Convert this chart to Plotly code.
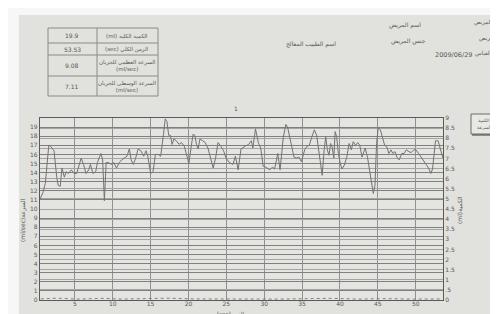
import plotly.graph_objects as go

# ---------------- data ----------------
time_s = [0.41, 0.78, 1.10, 1.56, 1.79, 2.02, 2.25, 2.61, 2.80, 3.07, 3.30, 3.62, 3.85, 4.17, 4.54,
          4.91, 5.23, 5.46, 5.83, 6.15, 6.47, 6.83, 7.06, 7.39, 7.75, 7.98, 8.44, 8.67, 8.90, 9.13,
          9.45, 9.82, 10.14, 10.50, 10.87, 11.19, 11.51, 11.88, 12.20, 12.43, 12.71, 13.03, 13.35,
          13.72, 14.08, 14.40, 14.63, 15.00, 15.32, 15.64, 16.00, 16.33, 16.70, 16.93, 17.16, 17.39,
          17.61, 17.84, 18.07, 18.39, 18.76, 19.08, 19.45, 19.77, 20.05, 20.37, 20.60, 20.83, 21.06,
          21.28, 21.51, 21.88, 22.20, 22.57, 22.89, 23.26, 23.58, 23.90, 24.27, 24.63, 24.95, 25.41,
          25.87, 26.19, 26.56, 26.93, 27.48, 27.94, 28.30, 28.49, 28.85, 29.22, 29.54, 29.86, 30.20,
          30.73, 31.07, 31.37, 31.79, 32.09, 32.52, 32.86, 33.08, 33.38, 33.63, 33.93, 34.23, 34.57,
          34.91, 35.34, 35.64, 35.94, 36.28, 36.62, 36.92, 37.22, 37.48, 37.65, 37.91, 38.12, 38.33,
          38.55, 38.76, 38.97, 39.19, 39.36, 39.57, 39.79, 40.04, 40.26, 40.56, 40.90, 41.20, 41.50,
          41.75, 42.05, 42.35, 42.61, 42.91, 43.12, 43.33, 43.63, 43.89, 44.19, 44.40, 44.62, 44.83,
          45.04, 45.34, 45.60, 45.90, 46.20, 46.45, 46.75, 46.97, 47.26, 47.52, 47.82, 48.16, 48.46,
          48.76, 49.10, 49.40, 49.74, 50.04, 50.38, 50.73, 51.03, 51.45, 51.75, 52.00, 52.22, 52.44,
          52.61, 52.95, 53.25, 53.59]
flow = [11.1, 11.8, 12.8, 17.0, 16.9, 16.6, 16.4, 13.5, 12.6, 12.5, 14.5, 13.5, 14.1, 13.9, 14.3,
        13.9, 13.9, 14.5, 15.6, 14.9, 13.9, 14.3, 14.9, 13.9, 14.1, 15.1, 16.1, 15.4, 10.9, 15.1,
        15.1, 14.9, 15.1, 14.5, 15.1, 15.4, 15.6, 15.8, 16.6, 15.4, 14.9, 15.6, 16.6,
        16.4, 15.8, 16.4, 15.8, 13.9, 14.1, 16.0, 16.0, 15.8, 18.2, 19.9, 19.6, 18.1,
        18.1, 17.1, 17.7, 17.5, 17.1, 17.3, 16.9, 15.8, 15.0, 16.9, 18.2, 18.1, 17.1,
        16.6, 17.7, 17.5, 17.3, 16.7, 15.6, 14.5, 15.6, 17.3, 16.9, 16.4, 15.6, 15.1,
        14.9, 15.8, 14.3, 16.6, 16.9, 17.1, 17.5, 16.7, 18.8, 17.3, 16.7, 14.7, 14.6,
        14.3, 14.6, 14.4, 16.1, 14.3, 17.9, 19.3, 19.0, 17.9, 16.8, 15.7, 15.6, 15.7,
        15.2, 16.5, 16.9, 17.0, 17.9, 18.7, 18.1, 16.5, 15.0, 13.7, 16.5, 17.9, 16.5,
        15.9, 17.2, 16.8, 15.6, 18.5, 17.9, 16.1, 15.0, 14.4, 14.8, 15.7, 17.2, 16.5,
        17.4, 17.0, 17.3, 17.0, 15.7, 16.3, 16.7, 15.7, 14.3, 13.2, 11.7, 12.6, 17.2,
        18.9, 18.7, 17.9, 17.0, 16.8, 16.1, 16.5, 16.1, 16.3, 15.7, 15.4, 16.1, 16.1,
        16.5, 16.3, 16.2, 16.5, 16.5, 16.1, 15.7, 15.4, 14.8, 14.4, 13.9, 14.4, 16.1,
        17.5, 17.5, 16.5, 15.6]

volume_time = [0.5, 2.6, 5.3, 8.8, 11.2, 14.3, 17.3, 20.8, 24.4, 28.1, 31.6, 35.2, 38.9, 42.4, 46.0, 49.7, 53.5]
volume = [0.12, 0.2, 0.1, 0.18, 0.1, 0.15, 0.2, 0.12, 0.1, 0.16, 0.1, 0.14, 0.18, 0.1, 0.15, 0.1, 0.12]

x_ticks = [5, 10, 15, 20, 25, 30, 35, 40, 45, 50]
left_ticks = list(range(0, 20))
right_ticks = [0, 0.5, 1, 1.5, 2, 2.5, 3, 3.5, 4, 4.5, 5, 5.5, 6, 6.5, 7, 7.5, 8, 8.5, 9]
right_labels = ["0", ".5", "1", "1.5", "2", "2.5", "3", "3.5", "4", "4.5", "5", "5.5", "6",
                "6.5", "7", "7.5", "8", "8.5", "9"]

table_values = ["19.9", "53.53", "9.08", "7.11"]
table_labels = ["(ml) الكمية الكلية", "(sec) الزمن الكلي",
                "السرعة العظمى للجريان<br>(ml/sec)", "السرعة الوسطى للجريان<br>(ml/sec)"]

# ---------------- layout helpers ----------------
W, H = 498, 314
L, R, T, B = 32, 435, 110, 292
def PX(px):
    return (px - L) / (R - L)
def PY(py):
    return (B - py) / (B - T)

FONT = "DejaVu Sans"
TXT = "#5a5a58"
PAPER = "#e1e1dd"

fig = go.Figure()
fig.add_trace(go.Scatter(x=time_s, y=flow, mode="lines", name="السرعة",
                         line=dict(color="#737373", width=1), showlegend=False))
fig.add_trace(go.Scatter(x=volume_time, y=volume, mode="lines", name="الكمية",
                         line=dict(color="#808080", width=1, dash="dot"), showlegend=False))
# invisible trace to activate the right axis
fig.add_trace(go.Scatter(x=[None], y=[None], yaxis="y2", showlegend=False))

fig.update_layout(
    width=W, height=H,
    margin=dict(l=L, r=W - R, t=T, b=H - B, pad=0),
    paper_bgcolor=PAPER, plot_bgcolor="#e4e4e0",
    font=dict(family=FONT, color=TXT, size=6),
    xaxis=dict(range=[0.4, 53.6], tickvals=x_ticks, showgrid=True, gridcolor="#909090", gridwidth=1,
               zeroline=False, showline=True, linecolor="#5a5a5a", linewidth=1.3, mirror=True,
               ticks="", ticklen=0, ticklabelstandoff=-2, tickfont=dict(size=6, color=TXT)),
    yaxis=dict(range=[0, 20], tickvals=left_ticks, showgrid=True, gridcolor="#808080", gridwidth=1,
               zeroline=False, showline=True, linecolor="#5a5a5a", linewidth=1.3,
               ticks="", ticklen=0, tickfont=dict(size=6, color=TXT)),
    yaxis2=dict(range=[0, 9], tickvals=right_ticks, ticktext=right_labels, overlaying="y", side="right",
                showgrid=True, gridcolor="#a4a4a2", gridwidth=1, zeroline=False, showline=True,
                linecolor="#5a5a5a", linewidth=1.3, ticks="", ticklen=0,
                tickfont=dict(size=6, color=TXT)),
)

shapes = []
# white edges of the photo
shapes.append(dict(type="rect", xref="paper", yref="paper", x0=PX(0), x1=PX(W), y0=PY(7), y1=PY(0),
                   fillcolor="#f7f7f7", line=dict(width=0), layer="below"))
shapes.append(dict(type="rect", xref="paper", yref="paper", x0=PX(0), x1=PX(11), y0=PY(H), y1=PY(0),
                   fillcolor="#f7f7f7", line=dict(width=0), layer="below"))
# info table
tx0, tx1, tcol = 40, 150, 89
rows = [20, 35, 47, 68, 88]
shapes.append(dict(type="rect", xref="paper", yref="paper", x0=PX(tx0), x1=PX(tx1), y0=PY(rows[-1]),
                   y1=PY(rows[0]), line=dict(color="#8a8a88", width=1)))
shapes.append(dict(type="line", xref="paper", yref="paper", x0=PX(tcol), x1=PX(tcol), y0=PY(rows[-1]),
                   y1=PY(rows[0]), line=dict(color="#8a8a88", width=1)))
for ry in rows[1:-1]:
    shapes.append(dict(type="line", xref="paper", yref="paper", x0=PX(tx0), x1=PX(tx1), y0=PY(ry),
                       y1=PY(ry), line=dict(color="#8a8a88", width=1)))
# legend box
shapes.append(dict(type="rect", xref="paper", yref="paper", x0=PX(463), x1=PX(492), y0=PY(126),
                   y1=PY(106), line=dict(color="#6a6a68", width=1), fillcolor="#e8e8e4", layer="below"))
shapes.append(dict(type="line", xref="paper", yref="paper", x0=PX(464), x1=PX(493), y0=PY(127),
                   y1=PY(127), line=dict(color="#555", width=1.2), layer="below"))
shapes.append(dict(type="line", xref="paper", yref="paper", x0=PX(493), x1=PX(493), y0=PY(127),
                   y1=PY(107), line=dict(color="#555", width=1.2), layer="below"))
fig.update_layout(shapes=shapes)

ann = []
def text(px, py, s, size=6, xanchor="center", angle=0, yanchor="middle"):
    ann.append(dict(x=PX(px), y=PY(py), xref="paper", yref="paper", text=s, showarrow=False,
                    xanchor=xanchor, yanchor=yanchor, textangle=angle, borderpad=0,
                    font=dict(family=FONT, size=size, color=TXT)))

row_centers = [27.5, 41, 57.5, 78]
for v, lab, cy in zip(table_values, table_labels, row_centers):
    text(64, cy, v, 6)
    text(119, cy, lab, 5.5)

text(397, 17, "اسم المريض", 6)
text(400, 33, "جنس المريض", 6)
text(303, 36, "اسم الطبيب المعالج", 6)
text(445, 47, "2009/06/29", 6.5)
text(490, 14, "م المريض", 5.5, xanchor="right")
text(490, 30, "المريض", 5.5, xanchor="right")
text(490, 46, "ع القياس", 5.5, xanchor="right")
text(228, 101, "1", 6)
text(477.5, 112, "الكمية -", 4.5)
text(477.5, 120, "السرعة -", 4.5)
text(222, 311, "[sec]الزمن", 5.5, yanchor="bottom")
text(15, 212, "(ml/sec)السرعة", 6, angle=-90)
text(451, 202, "(ml)الكمية", 6, angle=-90)
fig.update_layout(annotations=ann)

fig.write_html("out.html")
